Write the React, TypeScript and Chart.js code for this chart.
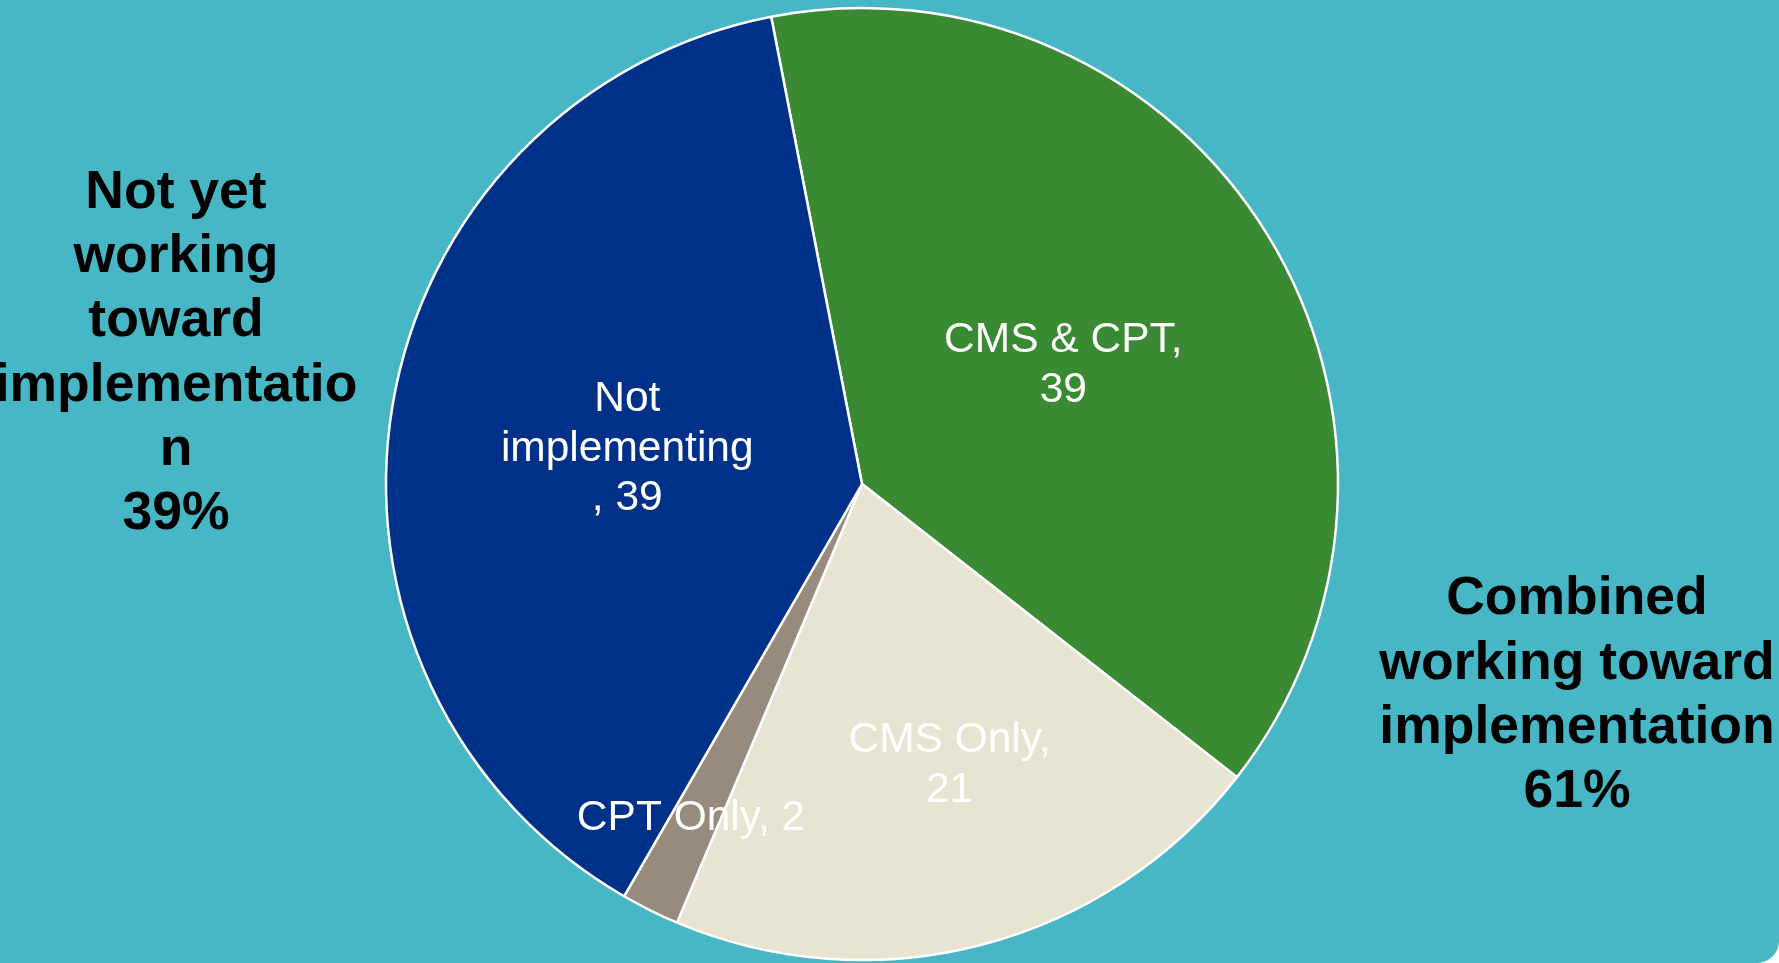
import React, { useEffect, useRef } from "react";
import { Chart, registerables } from "chart.js";

Chart.register(...registerables);

const categories = ["CMS & CPT", "CMS Only", "CPT Only", "Not implementing"];
const values = [39, 21, 2, 39];
const sliceColors = ["#3A8A33", "#E8E4D2", "#978B7D", "#003189"];
// line templates for in-slice labels ({v} replaced by value)
const labelTemplates = [["CMS & CPT,", "{v}"], ["CMS Only,", "{v}"], ["CPT Only, {v}"], ["Not", "implementing", ", {v}"]];
const labelRadiusFrac = [0.496, 0.61, 0.78, 0.5];
const labelAngleShiftDeg = [0, -3, 1, 0];

const leftNoteLines = ["Not yet", "working", "toward", "implementatio", "n", "39%"];
const rightNoteLines = ["Combined", "working toward", "implementation", "61%"];

const BG = "#47B6C5";

const sliceLabelPlugin = {
  id: "sliceLabels",
  afterDatasetsDraw(chart: any) {
    const ctx = chart.ctx;
    const meta = chart.getDatasetMeta(0);
    ctx.save();
    ctx.font = '42.5px "Liberation Sans", Arial, sans-serif';
    ctx.fillStyle = "#FFFFFF";
    ctx.textAlign = "center";
    ctx.textBaseline = "middle";
    meta.data.forEach((arc: any, i: number) => {
      const p = arc.getProps(["x", "y", "startAngle", "endAngle", "outerRadius"], true);
      const mid = (p.startAngle + p.endAngle) / 2 + (labelAngleShiftDeg[i] * Math.PI) / 180;
      const r = p.outerRadius * labelRadiusFrac[i];
      const cx = p.x + Math.cos(mid) * r;
      const cy = p.y + Math.sin(mid) * r + 4.5;
      const lines = labelTemplates[i].map((t) => t.replace("{v}", String(values[i])));
      const lh = 49.5;
      const top = cy - ((lines.length - 1) * lh) / 2;
      lines.forEach((ln, k) => ctx.fillText(ln, cx, top + k * lh));
    });
    ctx.restore();
  },
};

const sideNotesPlugin = {
  id: "sideNotes",
  afterDraw(chart: any) {
    const ctx = chart.ctx;
    ctx.save();
    ctx.font = 'bold 53.5px "Liberation Sans", Arial, sans-serif';
    ctx.fillStyle = "#000000";
    ctx.textAlign = "center";
    ctx.textBaseline = "middle";
    const lh = 64.3;
    leftNoteLines.forEach((ln, k) => ctx.fillText(ln, 176, 193 + k * lh));
    rightNoteLines.forEach((ln, k) => ctx.fillText(ln, 1577, 599.5 + k * lh));
    ctx.restore();
  },
};

export default function App() {
  const ref = useRef<HTMLCanvasElement | null>(null);
  useEffect(() => {
    document.body.style.margin = "0";
    document.body.style.background = "#FFFFFF";
    if (!ref.current) return;
    const chart = new Chart(ref.current, {
      type: "pie",
      data: {
        labels: categories,
        datasets: [
          {
            data: values,
            backgroundColor: sliceColors,
            borderColor: "#FFFFFF",
            borderWidth: 2.5,
          },
        ],
      },
      options: {
        responsive: false,
        animation: false,
        devicePixelRatio: 1,
        rotation: -11,
        radius: 476,
        layout: { padding: { left: 0, right: 55, top: 5, bottom: 0 } },
        plugins: {
          legend: { display: false },
          tooltip: { enabled: false },
          title: { display: false },
        },
      },
      plugins: [sliceLabelPlugin, sideNotesPlugin],
    });
    return () => chart.destroy();
  }, []);
  return (
    <div
      style={{
        position: "fixed",
        left: 0,
        top: 0,
        width: 1779,
        height: 963,
        background: BG,
        borderBottomRightRadius: 22,
        overflow: "hidden",
      }}
    >
      <canvas ref={ref} width={1779} height={963} style={{ display: "block" }} />
    </div>
  );
}
